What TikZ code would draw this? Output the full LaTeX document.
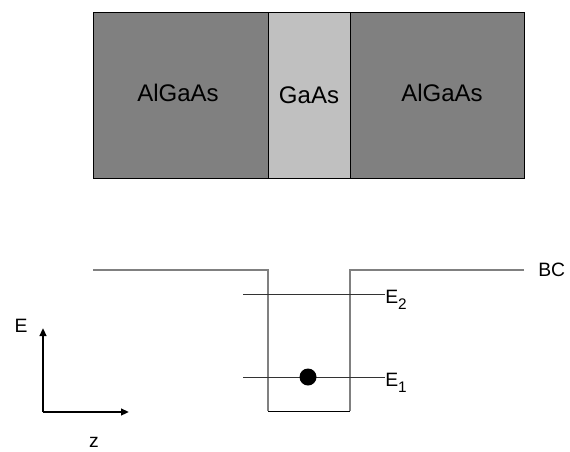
\documentclass[tikz,border=0pt]{standalone}
\usepackage{fontspec}
\setmainfont{Liberation Sans}
\usetikzlibrary{arrows.meta, positioning}
\definecolor{barrierGray}{RGB}{128,128,128}
\definecolor{wellGray}{RGB}{192,192,192}
\def\xL{93}
\def\xA{268}
\def\xB{350}
\def\xR{524}
\def\yBC{270}
\def\yBot{411}
\newcommand{\lvlsub}[1]{\raisebox{-5pt}{\fontsize{11.5}{13}\selectfont #1}}

\begin{document}
\begin{tikzpicture}[
    x=0.75pt, y=-0.75pt,
    >={Triangle[length=6pt,width=5pt]},
    layer/.style={draw=black, line width=0.6pt},
    band/.style={draw=barrierGray, line width=1.1pt},
    level/.style={draw=black!80, line width=0.7pt},
    axis/.style={draw=black, line width=1.5pt, ->},
    lbl/.style={font=\fontsize{14.5}{17}\selectfont, inner sep=0pt},
    big/.style={font=\fontsize{18}{21}\selectfont, inner sep=0pt}
]
\useasboundingbox (0,0) rectangle (570,451);

% layers
\draw[layer, fill=barrierGray] (\xL,12) rectangle (\xA,178);
\draw[layer, fill=wellGray] (\xA,12) rectangle (\xB,178);
\draw[layer, fill=barrierGray] (\xB,12) rectangle (\xR,178);
\node[big] (left) at (178,93) {AlGaAs};
\node[big] (mid) at (309,95) {GaAs};
\node[big] (right) at (442,93) {AlGaAs};

% band edge
\coordinate (bcl) at (\xL,\yBC);
\coordinate (bcr) at (\xR,\yBC);
\node[lbl, anchor=west] (BC) at (538,\yBC) {BC};
\draw[band] (bcl) -- (\xA,\yBC) -- (\xA,\yBot);
\draw[band] (bcr) -- (\xB,\yBC) -- (\xB,\yBot);
\draw[black, line width=0.7pt] (\xA,\yBot) -- (\xB,\yBot);

% levels
\coordinate (e2l) at (243,294);
\coordinate (e1l) at (243,377);
\node[lbl, anchor=base west] (E2) at (385,303) {E\lvlsub{2}};
\node[lbl, anchor=base west] (E1) at (385,386) {E\lvlsub{1}};
\draw[level] (e2l) -- (e2l -| E2.west);
\draw[level] (e1l) -- (e1l -| E1.west);
\node[circle, fill=black, minimum size=12.75pt, inner sep=0pt] (dot) at (308,377) {};

% axes
\coordinate (o) at (43,412);
\coordinate (eTip) at (43,328);
\coordinate (zTip) at (129,412);
\draw[axis] (o) -- (eTip);
\draw[axis] (o) -- (zTip);
\node[lbl] (Elbl) at (21,326) {E};
\node[lbl] (zlbl) at (94,442) {z};
\end{tikzpicture}
\end{document}
